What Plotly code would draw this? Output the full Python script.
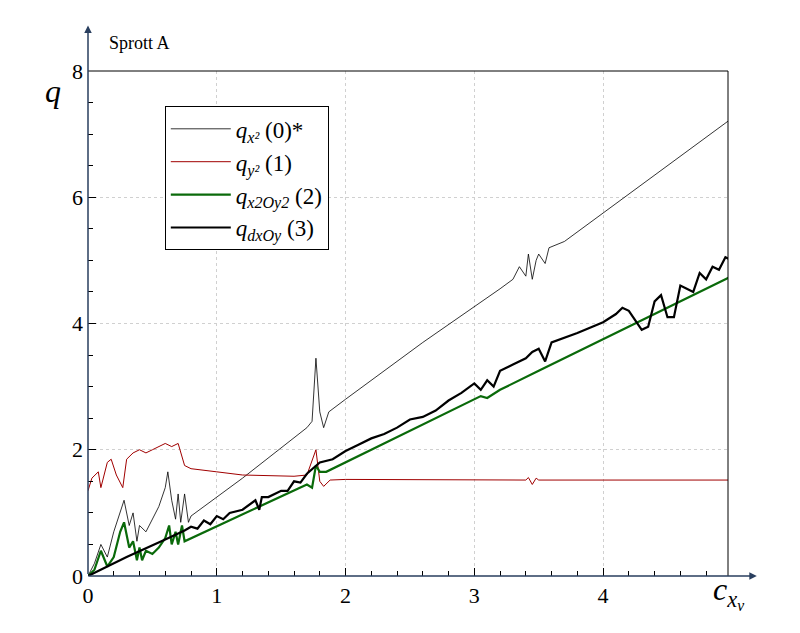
import plotly.graph_objects as go

# series 0: q_x2 (0)*
x0 = [0, 0.05, 0.1, 0.15, 0.2, 0.25, 0.28, 0.32, 0.35, 0.38, 0.4, 0.45, 0.5, 0.55, 0.6, 0.62, 0.65, 0.68, 0.7, 0.72, 0.75,
      0.78, 0.8, 1.2, 1.7, 1.74, 1.77, 1.8, 1.83, 1.87, 2.0, 2.6, 3.2, 3.3, 3.35, 3.4, 3.42, 3.45, 3.48, 3.5, 3.55, 3.58,
      3.7, 4.3, 5.0]
y0 = [0, 0.2, 0.5, 0.3, 0.7, 1.0, 1.2, 0.8, 1.0, 0.55, 0.8, 0.7, 0.9, 1.1, 1.4, 1.65, 1.2, 0.9, 1.3, 0.85, 1.3,
      0.85, 0.95, 1.55, 2.35, 2.45, 3.45, 2.6, 2.35, 2.6, 2.8, 3.7, 4.55, 4.7, 4.9, 4.75, 5.1, 4.7, 5.0, 5.1, 4.95, 5.2,
      5.3, 6.2, 7.25]

# series 1: q_y2 (1)
x1 = [0, 0.03, 0.08, 0.1, 0.15, 0.18, 0.22, 0.27, 0.3, 0.35, 0.4, 0.45, 0.5, 0.6, 0.65, 0.7, 0.75, 0.8, 1.0, 1.2,
      1.6, 1.7, 1.77, 1.8, 1.83, 1.88, 2.0, 3.4, 3.42, 3.45, 3.48, 3.5, 5.0]
y1 = [1.35, 1.55, 1.65, 1.4, 1.8, 1.85, 1.6, 1.4, 1.85, 1.95, 2.0, 1.95, 2.0, 2.1, 2.05, 2.1, 1.75, 1.7, 1.65, 1.6,
      1.58, 1.6, 2.0, 1.5, 1.42, 1.52, 1.53, 1.52, 1.56, 1.45, 1.55, 1.52, 1.52]

# series 2: q_x2Oy2 (2)
x2 = [0, 0.05, 0.1, 0.15, 0.2, 0.25, 0.28, 0.32, 0.35, 0.38, 0.4, 0.42, 0.45, 0.5, 0.55, 0.6, 0.63, 0.65, 0.68, 0.7,
      0.73, 0.75, 1.7, 1.74, 1.77, 1.8, 1.85, 3.0, 3.05, 3.1, 3.2, 3.5, 3.55, 5.0]
y2 = [0, 0.1, 0.4, 0.15, 0.3, 0.7, 0.85, 0.45, 0.55, 0.25, 0.45, 0.25, 0.4, 0.35, 0.45, 0.6, 0.8, 0.5, 0.7, 0.5,
      0.8, 0.55, 1.45, 1.4, 1.75, 1.65, 1.65, 2.8, 2.85, 2.82, 2.95, 3.25, 3.3, 4.75]

# series 3: q_dxOy (3)
x3 = [0, 0.3, 0.6, 0.75, 0.8, 0.85, 0.9, 0.95, 1.0, 1.05, 1.1, 1.2, 1.3, 1.33, 1.35, 1.4, 1.5, 1.55, 1.6, 1.65, 1.7,
      1.8, 1.9, 2.0, 2.1, 2.2, 2.3, 2.4, 2.5, 2.6, 2.7, 2.8, 2.9, 3.0, 3.05, 3.1, 3.15, 3.2, 3.3, 3.4, 3.45, 3.5,
      3.55, 3.6, 3.8, 4.0, 4.1, 4.15, 4.2, 4.3, 4.35, 4.4, 4.45, 4.5, 4.55, 4.6, 4.65, 4.7, 4.75, 4.8, 4.85, 4.9,
      4.95, 5.0]
y3 = [0, 0.3, 0.58, 0.72, 0.78, 0.75, 0.88, 0.82, 0.95, 0.9, 1.0, 1.05, 1.2, 1.05, 1.25, 1.25, 1.35, 1.35, 1.5, 1.48,
      1.62, 1.8, 1.85, 1.98, 2.08, 2.18, 2.25, 2.35, 2.48, 2.52, 2.62, 2.78, 2.9, 3.05, 2.95, 3.1, 3.0, 3.25, 3.35,
      3.45, 3.55, 3.6, 3.4, 3.7, 3.85, 4.02, 4.15, 4.25, 4.2, 3.9, 3.95, 4.35, 4.45, 4.1, 4.1, 4.6, 4.55, 4.5, 4.8,
      4.7, 4.9, 4.85, 5.05, 5.0]

fig = go.Figure()
fig.add_trace(go.Scatter(x=x0, y=y0, mode='lines', line=dict(color='black', width=0.8),
                         name='<i>q<sub>x²</sub></i> (0)*'))
fig.add_trace(go.Scatter(x=x1, y=y1, mode='lines', line=dict(color='#a00000', width=1),
                         name='<i>q<sub>y²</sub></i> (1)'))
fig.add_trace(go.Scatter(x=x2, y=y2, mode='lines', line=dict(color='#0a6a0a', width=2.2),
                         name='<i>q<sub>x2Oy2</sub></i> (2)'))
fig.add_trace(go.Scatter(x=x3, y=y3, mode='lines', line=dict(color='black', width=2.2),
                         name='<i>q<sub>dxOy</sub></i> (3)'))

axis_common = dict(showline=False, zeroline=False, ticks='inside', ticklen=8, tickcolor='black',
                   gridcolor='#d0d0d0', griddash='dot', tickfont=dict(size=22, color='black'),
                   automargin=False, ticklabelstandoff=4,
                   minor=dict(ticks='inside', ticklen=5, tickcolor='black', showgrid=False))
fig.update_xaxes(range=[0, 4.97], dtick=1, minor_dtick=0.2, **axis_common)
fig.update_yaxes(range=[0, 8], dtick=2, minor_dtick=0.5, **axis_common)

fig.update_layout(
    width=800, height=633, plot_bgcolor='white', paper_bgcolor='white',
    margin=dict(l=80, r=80, t=63, b=65, autoexpand=False),
    font=dict(family='Liberation Serif', color='black'),
    legend=dict(x=0.12, y=0.93, xanchor='left', yanchor='top', bordercolor='black', borderwidth=1,
                bgcolor='white', font=dict(size=23), itemwidth=60),
    shapes=[
        dict(type='line', xref='paper', yref='paper', x0=0, x1=1, y0=1, y1=1, line=dict(color='black', width=1)),
        dict(type='line', xref='paper', yref='paper', x0=1, x1=1, y0=0, y1=1, line=dict(color='black', width=1)),
    ],
    annotations=[
        dict(xref='paper', yref='paper', x=1.045, y=0, ax=-670, ay=0,
             showarrow=True, arrowhead=2, arrowsize=1, arrowwidth=1.5, text=''),
        dict(xref='paper', yref='paper', x=0, y=1.09, ax=0, ay=550, showarrow=True, arrowhead=2,
             arrowsize=1, arrowwidth=1.5, text=''),
        dict(xref='paper', yref='paper', x=0.03, y=1.08, text='Sprott A', showarrow=False,
             xanchor='left', font=dict(size=18)),
        dict(xref='paper', yref='paper', x=-0.07, y=1.0, text='<i>q</i>', showarrow=False,
             font=dict(size=32)),
        dict(xref='paper', yref='paper', x=1.0, y=-0.08, text='<i>c<sub>x<sub>v</sub></sub></i>',
             showarrow=False, xanchor='center', font=dict(size=32)),
    ],
)

fig.write_html("out.html")
